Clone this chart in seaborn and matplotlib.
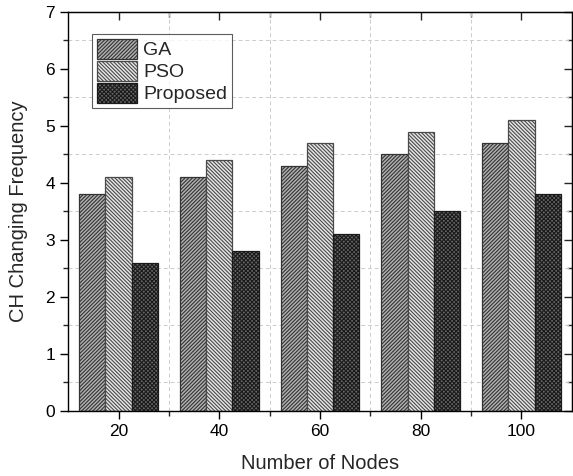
import matplotlib
matplotlib.use("Agg")
import matplotlib.pyplot as plt
import seaborn as sns
import pandas as pd
from matplotlib.ticker import MultipleLocator, FixedLocator

# data
nodes = ["20", "40", "60", "80", "100"]
methods = ["GA", "PSO", "Proposed"]
ga = [3.8, 4.1, 4.3, 4.5, 4.7]
pso = [4.1, 4.4, 4.7, 4.9, 5.1]
proposed = [2.6, 2.8, 3.1, 3.5, 3.8]

df = pd.DataFrame({
    "Nodes": nodes * 3,
    "Method": ["GA"] * 5 + ["PSO"] * 5 + ["Proposed"] * 5,
    "Freq": ga + pso + proposed,
})

sns.set_style("ticks")
plt.rcParams["font.family"] = ["Liberation Sans", "DejaVu Sans"]
plt.rcParams["hatch.linewidth"] = 0.8

fig = plt.figure(figsize=(5.73, 4.76), dpi=100)
ax = fig.add_axes([0.119, 0.137, 0.879, 0.838])

colors = ["#b0b0b0", "#e6e6e6", "#666666"]
edges = ["#333333", "#4a4a4a", "#1a1a1a"]
hatches = ["/" * 9, "\\" * 9, "x" * 8]

sns.barplot(data=df, x="Nodes", y="Freq", hue="Method", order=nodes,
            hue_order=methods, palette=colors, width=0.78, legend=False,
            edgecolor="black", linewidth=0.9, ax=ax)

for cont, h, ec in zip(ax.containers, hatches, edges):
    for bar in cont:
        bar.set_hatch(h)
        bar.set_edgecolor(ec)

ax.set_xlim(-0.5, 4.5)
ax.set_ylim(0, 7)
ax.yaxis.set_major_locator(MultipleLocator(1))
ax.yaxis.set_minor_locator(MultipleLocator(0.5))
ax.xaxis.set_minor_locator(FixedLocator([0.5, 1.5, 2.5, 3.5]))

ax.grid(which="minor", color="#cccccc", linestyle=(0, (4, 3)), linewidth=0.7)
ax.grid(which="major", visible=False)
ax.set_axisbelow(True)

for sp in ax.spines.values():
    sp.set_visible(True)
    sp.set_linewidth(1.0)
    sp.set_color("black")

ax.tick_params(which="major", direction="out", length=6, width=1, labelsize=12.5,
               colors="black")
ax.tick_params(which="minor", direction="out", length=3.5, width=1)

# ticks on top/right pointing inward
sx = ax.secondary_xaxis("top")
sx.set_xticks(range(5))
sx.xaxis.set_minor_locator(FixedLocator([0.5, 1.5, 2.5, 3.5]))
sx.tick_params(which="major", direction="in", length=6, width=1, labeltop=False)
sx.tick_params(which="minor", direction="in", length=3.5, width=1)
sy = ax.secondary_yaxis("right")
sy.yaxis.set_major_locator(MultipleLocator(1))
sy.yaxis.set_minor_locator(MultipleLocator(0.5))
sy.tick_params(which="major", direction="in", length=6, width=1, labelright=False)
sy.tick_params(which="minor", direction="in", length=3.5, width=1)

ax.set_xlabel("Number of Nodes", fontsize=14.5, labelpad=11)
ax.set_ylabel("CH Changing Frequency", fontsize=14.5, labelpad=12.5)

leg = ax.legend(ax.containers, methods, loc="upper left",
                bbox_to_anchor=(0.048, 0.945), fontsize=14, frameon=True,
                fancybox=False, edgecolor="#333333", handlelength=2.05,
                handleheight=1.2, handletextpad=0.3, labelspacing=0.08,
                borderpad=0.25, borderaxespad=0)
leg.get_frame().set_linewidth(0.8)

fig.savefig("out.png", dpi=100)
